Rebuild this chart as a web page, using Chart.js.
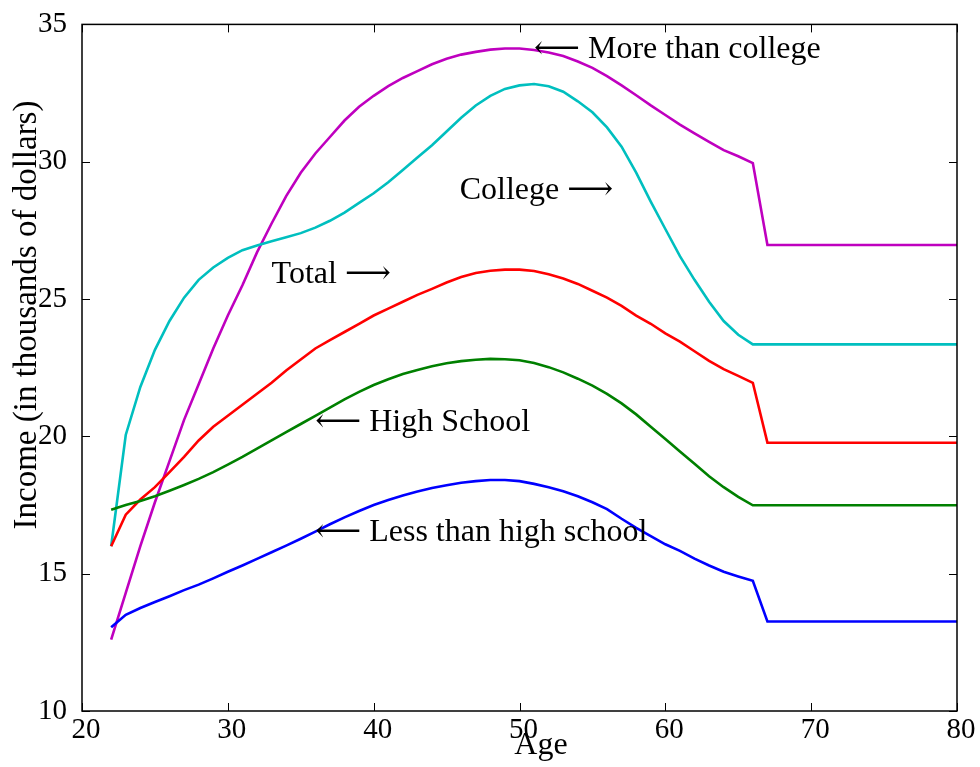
<!DOCTYPE html>
<html>
<head>
<meta charset="utf-8">
<script src="https://cdn.jsdelivr.net/npm/chart.js@4.4.0/dist/chart.umd.min.js"></script>
<style>
html, body { margin: 0; padding: 0; background: #fff; }
</style>
</head>
<body>
<canvas id="incomeChart" width="980" height="767"></canvas>
<script>
// Income by age and education
const ages = [22, 23, 24, 25, 26, 27, 28, 29, 30, 31, 32, 33, 34, 35, 36, 37, 38, 39, 40, 41, 42, 43, 44,
    45, 46, 47, 48, 49, 50, 51, 52, 53, 54, 55, 56, 57, 58, 59, 60, 61, 62, 63, 64, 65, 66, 67, 80];

const lessThanHighSchool = [13.05, 13.5, 13.75, 13.97, 14.18, 14.4, 14.6, 14.83, 15.07, 15.3, 15.54, 15.78,
    16.02, 16.27, 16.53, 16.8, 17.05, 17.28, 17.5, 17.68, 17.85, 17.99, 18.12, 18.22, 18.31, 18.37, 18.41,
    18.41, 18.37, 18.27, 18.15, 18.0, 17.82, 17.6, 17.35, 17.0, 16.67, 16.37, 16.07, 15.83, 15.55, 15.3,
    15.07, 14.9, 14.74, 13.26, 13.26];
const highSchool = [17.33, 17.5, 17.65, 17.82, 18.02, 18.23, 18.45, 18.7, 18.97, 19.25, 19.55, 19.85,
    20.15, 20.45, 20.75, 21.05, 21.35, 21.62, 21.87, 22.08, 22.27, 22.42, 22.55, 22.66, 22.74, 22.79, 22.82,
    22.81, 22.77, 22.67, 22.52, 22.33, 22.1, 21.85, 21.55, 21.2, 20.8, 20.35, 19.9, 19.45, 19.0, 18.55,
    18.15, 17.8, 17.49, 17.49, 17.49];
const total = [16.0, 17.15, 17.7, 18.15, 18.7, 19.25, 19.85, 20.35, 20.75, 21.15, 21.55, 21.95, 22.4, 22.8,
    23.2, 23.5, 23.8, 24.1, 24.4, 24.65, 24.9, 25.15, 25.37, 25.6, 25.8, 25.95, 26.03, 26.07, 26.07, 26.02,
    25.9, 25.75, 25.55, 25.3, 25.05, 24.75, 24.4, 24.1, 23.75, 23.45, 23.1, 22.75, 22.45, 22.2, 21.95,
    19.77, 19.77];
const college = [16.0, 20.05, 21.8, 23.15, 24.2, 25.05, 25.7, 26.15, 26.5, 26.78, 26.95, 27.1, 27.25, 27.4,
    27.6, 27.85, 28.15, 28.5, 28.85, 29.25, 29.7, 30.15, 30.6, 31.1, 31.6, 32.05, 32.4, 32.65, 32.78, 32.83,
    32.75, 32.55, 32.2, 31.8, 31.25, 30.55, 29.6, 28.55, 27.55, 26.56, 25.7, 24.9, 24.2, 23.7, 23.35,
    23.35, 23.35];
const moreThanCollege = [12.6, 14.3, 16.0, 17.6, 19.1, 20.6, 21.9, 23.2, 24.4, 25.5, 26.7, 27.75, 28.75,
    29.6, 30.3, 30.9, 31.5, 32.0, 32.4, 32.75, 33.05, 33.3, 33.55, 33.75, 33.9, 34.0, 34.08, 34.12, 34.12,
    34.07, 33.98, 33.85, 33.65, 33.42, 33.12, 32.78, 32.42, 32.05, 31.7, 31.35, 31.03, 30.72, 30.42, 30.2,
    29.95, 26.97, 26.97];

const xTicks = [20, 30, 40, 50, 60, 70, 80];
const yTicks = [10, 15, 20, 25, 30, 35];

// text labels, anchored at (age, income)
const noteText = ['\u27F5 More than college', 'College \u27F6', 'Total \u27F6', '\u27F5 High School', '\u27F5 Less than high school'];
const noteAge = [51, 45.9, 33, 36, 36];
const noteIncome = [34.1, 28.96, 25.88, 20.5, 16.5];

const FONT = '"Liberation Serif", "DejaVu Serif", serif';

function points(values) {
    return values.map((v, i) => ({ x: ages[i], y: v }));
}

function line(label, values, color) {
    return {
        label: label,
        data: points(values),
        borderColor: color,
        backgroundColor: color,
        borderWidth: 2.6,
        pointRadius: 0,
        tension: 0,
        fill: false
    };
}

const frameAndNotes = {
    id: 'frameAndNotes',
    afterDatasetsDraw(chart) {
        const { ctx, chartArea: a, scales: { x, y } } = chart;
        ctx.save();
        ctx.strokeStyle = '#000';
        ctx.lineWidth = 1.5;
        ctx.strokeRect(a.left, a.top, a.right - a.left, a.bottom - a.top);

        // inward tick marks on every side
        ctx.lineWidth = 1;
        ctx.beginPath();
        xTicks.forEach(v => {
            const px = Math.round(x.getPixelForValue(v)) + 0.5;
            ctx.moveTo(px, a.bottom); ctx.lineTo(px, a.bottom - 8);
            ctx.moveTo(px, a.top); ctx.lineTo(px, a.top + 8);
        });
        yTicks.forEach(v => {
            const py = Math.round(y.getPixelForValue(v)) + 0.5;
            ctx.moveTo(a.left, py); ctx.lineTo(a.left + 8, py);
            ctx.moveTo(a.right, py); ctx.lineTo(a.right - 8, py);
        });
        ctx.stroke();

        ctx.fillStyle = '#000';
        ctx.font = '32px ' + FONT;
        ctx.textBaseline = 'middle';
        ctx.textAlign = 'left';
        noteText.forEach((t, i) => {
            ctx.fillText(t, x.getPixelForValue(noteAge[i]), y.getPixelForValue(noteIncome[i]));
        });

        // axis titles
        ctx.textAlign = 'center';
        ctx.fillText('Age', 541, 746);
        ctx.font = '33px ' + FONT;
        ctx.translate(27, 315);
        ctx.rotate(-Math.PI / 2);
        ctx.fillText('Income (in thousands of dollars)', 0, 0);
        ctx.restore();
    }
};

const incomeCtx = document.getElementById('incomeChart').getContext('2d');
new Chart(incomeCtx, {
    type: 'line',
    data: {
        datasets: [
            line('Less than high school', lessThanHighSchool, '#0000ff'),
            line('High School', highSchool, '#008000'),
            line('Total', total, '#ff0000'),
            line('College', college, '#00bfbf'),
            line('More than college', moreThanCollege, '#bf00bf')
        ]
    },
    options: {
        responsive: false,
        animation: false,
        layout: {
            padding: { left: 0, right: 23, top: 20, bottom: 0 }
        },
        plugins: {
            legend: { display: false },
            tooltip: { enabled: false }
        },
        scales: {
            x: {
                type: 'linear',
                min: 20,
                max: 80,
                afterFit: s => { s.height = 56; },
                afterBuildTicks: s => { s.ticks = xTicks.map(v => ({ value: v })); },
                grid: { display: false },
                border: { display: false },
                ticks: {
                    color: '#000',
                    padding: -6,
                    labelOffset: 4,
                    maxRotation: 0,
                    font: { family: FONT, size: 29 }
                }
            },
            y: {
                min: 10,
                max: 35,
                afterFit: s => { s.width = 82; },
                afterBuildTicks: s => { s.ticks = yTicks.map(v => ({ value: v })); },
                grid: { display: false },
                border: { display: false },
                ticks: {
                    color: '#000',
                    padding: 7,
                    font: { family: FONT, size: 29 }
                }
            }
        }
    },
    plugins: [frameAndNotes]
});
</script>
</body>
</html>
